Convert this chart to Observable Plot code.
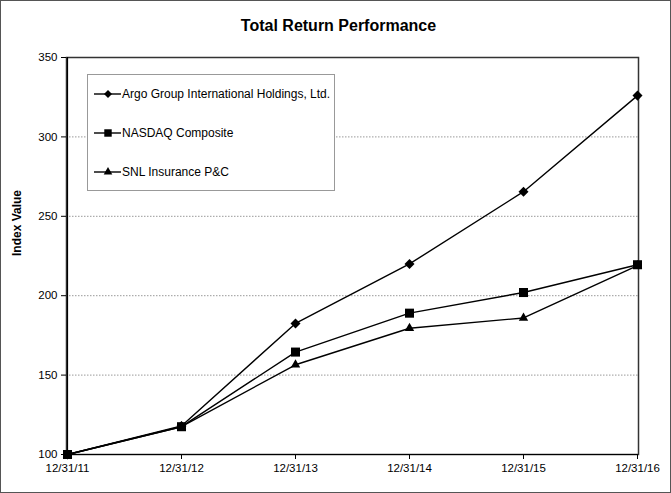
<!DOCTYPE html>
<html>
<head>
<meta charset="utf-8">
<script src="https://cdn.jsdelivr.net/npm/d3@7"></script>
<script src="https://cdn.jsdelivr.net/npm/@observablehq/plot@0.6"></script>
<style>
  html, body { margin: 0; padding: 0; background: #fff; }
  #wrap { position: relative; width: 671px; height: 493px; overflow: hidden; background: #fff;
          font-family: Arial, "Liberation Sans", Helvetica, sans-serif; }
  #title { position: absolute; left: 0; top: 17px; width: 677px; text-align: center;
           font-size: 16px; font-weight: bold; line-height: 18px; color: #000; }
  #chart { position: absolute; left: 0; top: 45px; }
  #legend { position: absolute; left: 87px; top: 74px; width: 246px; height: 115px;
            border: 1px solid #999; background: #fff; }
  .row { position: absolute; left: 0; height: 16px; width: 100%; }
  .row svg { position: absolute; left: 6px; top: 0; }
  .row span { position: absolute; left: 34px; top: 0; font-size: 12px; line-height: 16px; color: #000; white-space: nowrap; }
  #border { position: absolute; left: 0; top: 0; width: 669px; height: 491px; border: 1px solid #555; pointer-events: none; }
</style>
</head>
<body>
<div id="wrap">
  <div id="title">Total Return Performance</div>
  <div id="chart"></div>
  <div id="legend"></div>
  <div id="border"></div>
</div>
<script>
const dates = ["12/31/11", "12/31/12", "12/31/13", "12/31/14", "12/31/15", "12/31/16"];
const argo = [100, 118, 182.5, 220, 265.5, 326];
const nasdaq = [100, 117.5, 164.5, 189, 202, 219.5];
const snl = [100, 117.5, 156.5, 179.5, 186, 219];
const seriesNames = ["Argo Group International Holdings, Ltd.", "NASDAQ Composite", "SNL Insurance P&C"];
const yTicks = [100, 150, 200, 250, 300, 350];
const gridValues = [150, 200, 250, 300];

// square rotated 45 degrees
const rhombus = {
  draw(ctx, size) {
    const h = Math.sqrt(size / 2);
    ctx.moveTo(0, -h); ctx.lineTo(h, 0); ctx.lineTo(0, h); ctx.lineTo(-h, 0); ctx.closePath();
  }
};
const seriesSymbols = [rhombus, d3.symbolSquare, d3.symbolTriangle];
const seriesR = [4, 5.1, 3.5];

const seriesValues = [argo, nasdaq, snl];
const rows = [];
seriesNames.forEach((name, i) => {
  seriesValues[i].forEach((v, j) => rows.push({series: name, date: dates[j], value: v, idx: i}));
});
const order = [2, 1, 0];

const lineMarks = [];
const dotMarks = [];
for (const i of order) {
  const d = rows.filter(r => r.idx === i);
  lineMarks.push(Plot.line(d, {x: "date", y: "value", stroke: "#000", strokeWidth: 1.4}));
  dotMarks.push(Plot.dot(d, {x: "date", y: "value", symbol: seriesSymbols[i], r: seriesR[i], fill: "#000", stroke: "none"}));
}

const chart = Plot.plot({
  width: 671,
  height: 448,
  marginTop: 12,
  marginLeft: 66,
  marginRight: 33,
  marginBottom: 39,
  style: {fontFamily: "Arial, 'Liberation Sans', sans-serif", fontSize: "12px", background: "transparent", overflow: "visible", color: "#000"},
  x: {type: "point", domain: dates, padding: 0, label: null},
  y: {domain: [100, 350], label: null},
  marks: [
    Plot.ruleY(gridValues, {stroke: "#999", strokeWidth: 1, strokeDasharray: "1.5,1.5"}),
    Plot.frame({stroke: "#333", strokeWidth: 1.5}),
    Plot.ruleX([dates[0]], {stroke: "#000", strokeWidth: 1.2}),
    Plot.ruleY([100], {stroke: "#000", strokeWidth: 1.2}),
    Plot.axisY({ticks: yTicks, tickSize: 5, tickPadding: 4, fontSize: 11.5, label: null, stroke: "#000"}),
    Plot.axisX({tickSize: 5, tickPadding: 4, fontSize: 11.5, label: null, stroke: "#000"}),
    Plot.text(["Index Value"], {frameAnchor: "left", rotate: -90, dx: -49, fontWeight: "bold", fontSize: 12, fill: "#000"}),
    ...lineMarks,
    ...dotMarks
  ]
});
document.getElementById("chart").appendChild(chart);

// legend
const legend = document.getElementById("legend");
const centers = [19, 58, 97];
const legendR = [3.2, 4.2, 3.2];
seriesNames.forEach((name, i) => {
  const row = document.createElement("div");
  row.className = "row";
  row.style.top = (centers[i] - 8) + "px";
  const svg = d3.create("svg").attr("width", 28).attr("height", 16);
  svg.append("line").attr("x1", 0).attr("x2", 27).attr("y1", 8).attr("y2", 8).attr("stroke", "#000").attr("stroke-width", 1.4);
  const rr = legendR[i];
  svg.append("path").attr("transform", "translate(14,8)").attr("d", d3.symbol(seriesSymbols[i], Math.PI * rr * rr)()).attr("fill", "#000");
  row.appendChild(svg.node());
  const span = document.createElement("span");
  span.textContent = name;
  row.appendChild(span);
  legend.appendChild(row);
});
</script>
</body>
</html>
